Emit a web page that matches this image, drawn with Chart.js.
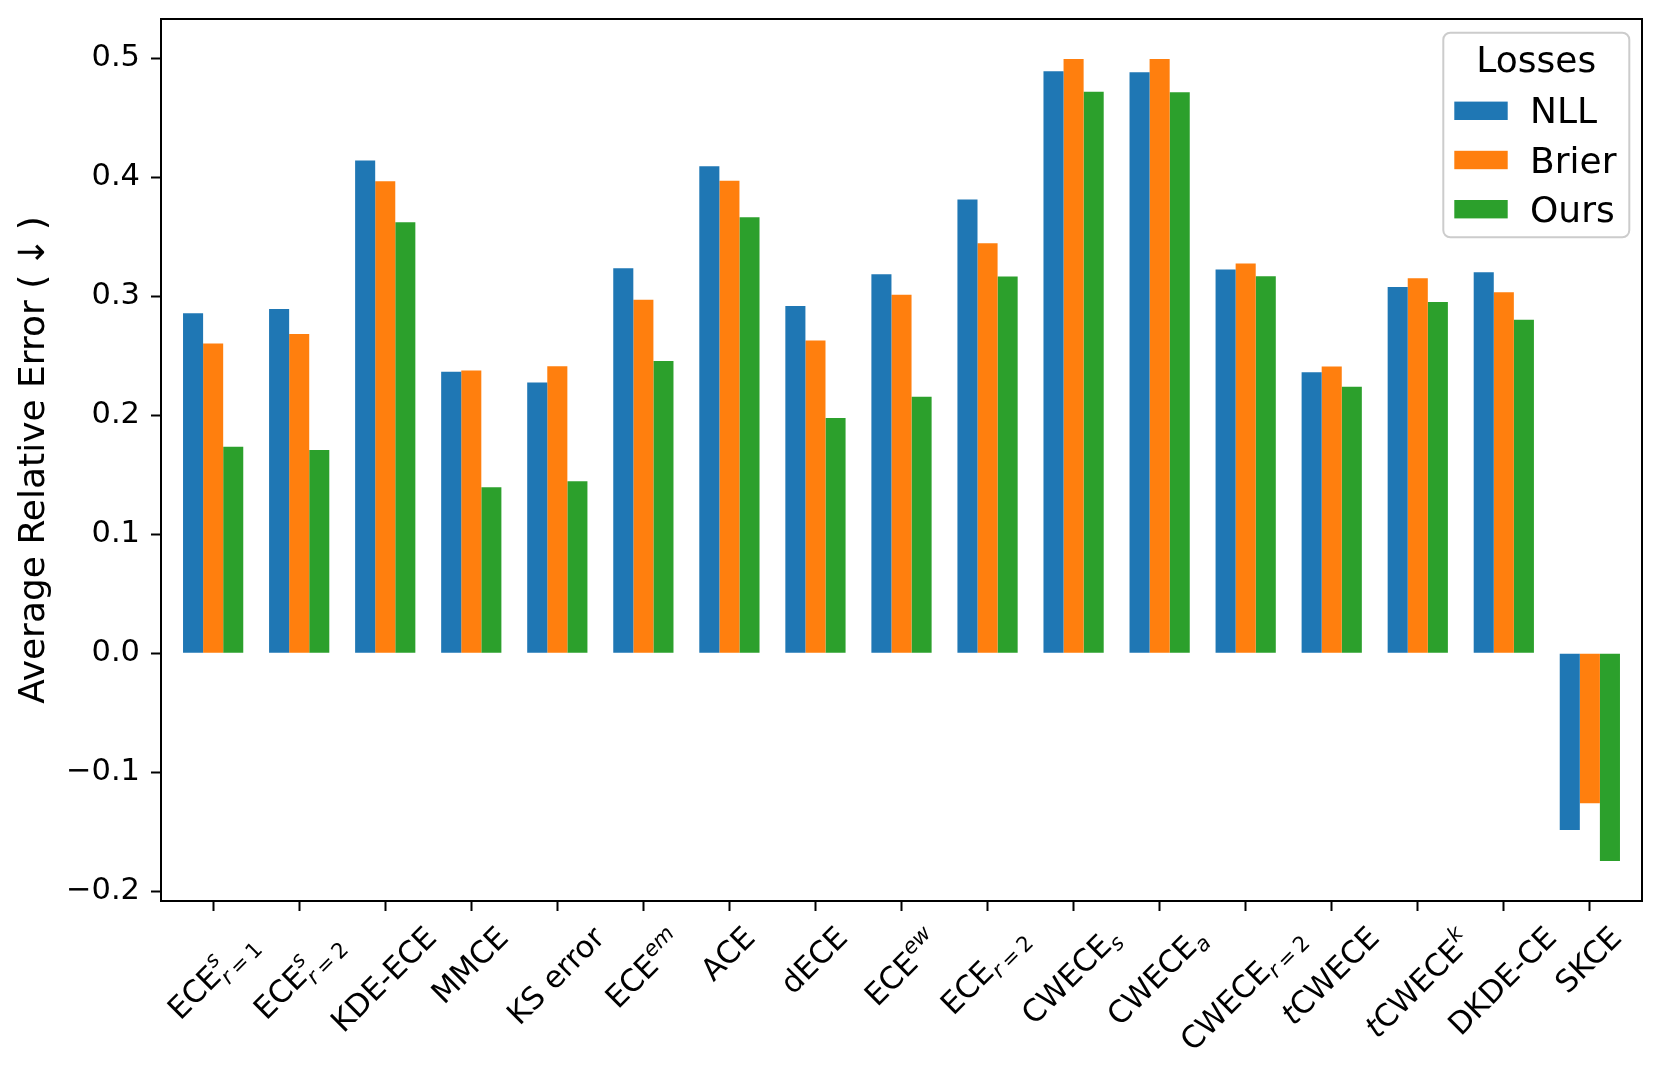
<!DOCTYPE html>
<html>
<head>
<meta charset="utf-8">
<script src="https://cdn.jsdelivr.net/npm/chart.js@4.4.1/dist/chart.umd.min.js"></script>
<style>
html,body{margin:0;padding:0;background:#ffffff;}
#c{display:block;}
</style>
</head>
<body>
<canvas id="c" width="1661" height="1081"></canvas>
<script>
// ---------------- data ----------------
const categories = ['ECE^{s}_{r=1}', 'ECE^{s}_{r=2}', 'KDE-ECE', 'MMCE', 'KS error', 'ECE^{em}', 'ACE', 'dECE',
  'ECE^{ew}', 'ECE_{r=2}', 'CWECE_{s}', 'CWECE_{a}', 'CWECE_{r=2}', '*t*CWECE', '*t*CWECE^{k}', 'DKDE-CE', 'SKCE'];
const seriesNames = ['NLL', 'Brier', 'Ours'];
const nllValues   = [0.2857, 0.2893, 0.4139, 0.2366, 0.2274, 0.3235, 0.4092, 0.2918, 0.3185, 0.3812, 0.4891, 0.4882, 0.3224, 0.2361, 0.3078, 0.3202, -0.1485];
const brierValues = [0.2602, 0.2683, 0.3966, 0.2375, 0.2412, 0.2969, 0.3969, 0.2627, 0.3011, 0.3445, 0.4992, 0.4992, 0.3274, 0.2409, 0.3151, 0.3034, -0.1261];
const oursValues  = [0.1734, 0.1708, 0.3622, 0.1395, 0.1445, 0.2456, 0.3664, 0.1977, 0.2154, 0.3165, 0.4717, 0.4714, 0.3168, 0.2238, 0.2952, 0.2801, -0.1745];
const yTickValues = [-0.2, -0.1, 0.0, 0.1, 0.2, 0.3, 0.4, 0.5];
const yAxisTitle = 'Average Relative Error (\u2009\u2193\u2009)';
const legendTitle = 'Losses';

// ---------------- styles ----------------
const seriesColors = ['#1f77b4', '#ff7f0e', '#2ca02c'];
const FONT = '"DejaVu Sans", "Liberation Sans", sans-serif';
const TICK_SIZE = 30.5;
const BIG_SIZE = 36;

const allSeries = [nllValues, brierValues, oursValues];

function fmtTick(v) {
  if (Math.abs(v) < 1e-9) return '0.0';
  const s = Math.abs(v).toFixed(1);
  return v < 0 ? '\u2212' + s : s;
}

// ---------- mini markup parser for x labels ----------
function parseLabel(s) {
  const segs = [];
  let i = 0;
  while (i < s.length) {
    const ch = s[i];
    if (ch === '*') {
      const j = s.indexOf('*', i + 1);
      segs.push({ t: s.slice(i + 1, j), kind: 'base', italic: true });
      i = j + 1;
    } else if ((ch === '^' || ch === '_') && s[i + 1] === '{') {
      const j = s.indexOf('}', i);
      segs.push({ t: s.slice(i + 2, j), kind: ch === '^' ? 'sup' : 'sub' });
      i = j + 1;
    } else {
      let j = i;
      while (j < s.length && !'*^_'.includes(s[j])) j++;
      segs.push({ t: s.slice(i, j), kind: 'base', italic: false });
      i = j;
    }
  }
  return segs;
}

function layoutLabel(ctx, s) {
  const F = TICK_SIZE, f = TICK_SIZE * 0.7;
  const segs = parseLabel(s);
  const runs = [];
  let x = 0;
  let A = 0.76 * F, D = 0.24 * F;
  const hasSup = segs.some(g => g.kind === 'sup');
  const hasSub = segs.some(g => g.kind === 'sub');
  const supRise = hasSub ? 0.45 * F : 0.42 * F;
  const subDrop = hasSup ? 0.30 * F : 0.22 * F;
  function script(text, x0, dy) {
    let xx = x0;
    for (const ch of text) {
      if (ch === '=') {
        xx += f * 0.2;
        const font = `${f}px ${FONT}`;
        ctx.font = font;
        runs.push({ t: ch, font, x: xx, dy });
        xx += ctx.measureText(ch).width + f * 0.2;
      } else {
        const it = /[a-zA-Z]/.test(ch);
        const font = `${it ? 'italic ' : ''}${f}px ${FONT}`;
        ctx.font = font;
        runs.push({ t: ch, font, x: xx, dy });
        xx += ctx.measureText(ch).width;
      }
    }
    return xx;
  }
  let k = 0;
  while (k < segs.length) {
    const g = segs[k];
    if (g.kind === 'base') {
      const font = `${g.italic ? 'italic ' : ''}${F}px ${FONT}`;
      ctx.font = font;
      runs.push({ t: g.t, font, x, dy: 0 });
      x += ctx.measureText(g.t).width;
      k++;
    } else {
      const start = x;
      let end = start;
      const g2 = segs[k + 1];
      const e1 = script(g.t, start, g.kind === 'sup' ? -supRise : subDrop);
      end = Math.max(end, e1);
      if (g.kind === 'sup') A = Math.max(A, supRise + 0.76 * f); else D = Math.max(D, subDrop + 0.24 * f);
      k++;
      if (g2 && g2.kind !== 'base' && g2.kind !== g.kind) {
        const e2 = script(g2.t, start, g2.kind === 'sup' ? -supRise : subDrop);
        end = Math.max(end, e2);
        if (g2.kind === 'sup') A = Math.max(A, supRise + 0.76 * f); else D = Math.max(D, subDrop + 0.24 * f);
        k++;
      }
      x = end;
    }
  }
  return { runs, w: x, A, D };
}

const frameAndLabels = {
  id: 'frameAndLabels',
  afterDatasetsDraw(chart) {
    const { ctx, chartArea: ca } = chart;
    ctx.save();
    ctx.strokeStyle = '#000';
    ctx.lineWidth = 2;
    ctx.strokeRect(ca.left, ca.top, ca.right - ca.left, ca.bottom - ca.top);
    ctx.restore();
  },
  afterDraw(chart) {
    const { ctx, chartArea: ca } = chart;
    const xs = chart.scales.x;
    const c = Math.SQRT1_2;
    const yTop = ca.bottom + 22;
    ctx.save();
    ctx.fillStyle = '#000';
    ctx.textBaseline = 'alphabetic';
    ctx.textAlign = 'left';
    categories.forEach((lab, i) => {
      const L = layoutLabel(ctx, lab);
      const tx = xs.getPixelForValue(i);
      const ox = tx - (L.w + L.D - L.A) * c / 2;
      const oy = yTop + (L.w + L.A) * c;
      ctx.save();
      ctx.translate(ox, oy);
      ctx.rotate(-Math.PI / 4);
      for (const r of L.runs) {
        ctx.font = r.font;
        ctx.fillText(r.t, r.x, r.dy);
      }
      ctx.restore();
    });
    ctx.restore();

    // legend
    const right = ca.right - 12.7, top = ca.top + 13.7;
    const bw = 186, bh = 204.6, left = right - bw;
    ctx.save();
    ctx.beginPath();
    ctx.roundRect(left, top, bw, bh, 7);
    ctx.fillStyle = 'rgba(255,255,255,0.8)';
    ctx.fill();
    ctx.strokeStyle = '#cccccc';
    ctx.lineWidth = 2;
    ctx.stroke();
    ctx.fillStyle = '#000';
    ctx.font = `${BIG_SIZE}px ${FONT}`;
    ctx.textAlign = 'center';
    ctx.textBaseline = 'alphabetic';
    ctx.fillText(legendTitle, left + bw / 2, top + 39);
    ctx.textAlign = 'left';
    seriesNames.forEach((n, k) => {
      const cy = top + 78.1 + k * 49.2;
      ctx.fillStyle = seriesColors[k];
      ctx.fillRect(left + 11, cy - 9.2, 53.4, 18.4);
      ctx.fillStyle = '#000';
      ctx.fillText(n, left + 86.7, cy + 12.5);
    });
    ctx.restore();
  }
};

const chart = new Chart(document.getElementById('c').getContext('2d'), {
  type: 'bar',
  data: {
    datasets: seriesNames.map((name, k) => ({
      label: name,
      data: allSeries[k].map((v, i) => ({ x: i, y: v })),
      backgroundColor: seriesColors[k],
      borderWidth: 0,
      categoryPercentage: 0.7,
      barPercentage: 1.0
    }))
  },
  options: {
    responsive: false,
    animation: false,
    devicePixelRatio: 1,
    layout: { padding: { left: 0, right: 19, top: 19, bottom: 0 } },
    plugins: { legend: { display: false }, tooltip: { enabled: false } },
    scales: {
      x: {
        type: 'linear',
        min: -0.606,
        max: 16.606,
        offset: false,
        afterBuildTicks: s => { s.ticks = categories.map((c, i) => ({ value: i })); },
        ticks: { callback: () => '', autoSkip: false, maxRotation: 0, minRotation: 0 },
        grid: { display: true, offset: false, drawOnChartArea: false, drawTicks: true, tickLength: 10, tickWidth: 2, tickColor: '#000' },
        border: { display: false },
        afterFit: s => { s.height = 180; s.paddingLeft = 0; s.paddingRight = 0; }
      },
      y: {
        type: 'linear',
        min: -0.2082,
        max: 0.5329,
        afterBuildTicks: s => { s.ticks = yTickValues.map(v => ({ value: v })); },
        ticks: {
          callback: v => fmtTick(v),
          font: { family: FONT, size: TICK_SIZE },
          color: '#000',
          padding: 11,
          autoSkip: false
        },
        grid: { display: true, offset: false, drawOnChartArea: false, drawTicks: true, tickLength: 10, tickWidth: 2, tickColor: '#000' },
        border: { display: false },
        title: {
          display: true,
          text: yAxisTitle,
          font: { family: FONT, size: BIG_SIZE },
          color: '#000',
          padding: { top: 13, bottom: 0 }
        },
        afterFit: s => { s.width = 161; s.paddingTop = 0; s.paddingBottom = 0; }
      }
    }
  },
  plugins: [frameAndLabels]
});
</script>
</body>
</html>
